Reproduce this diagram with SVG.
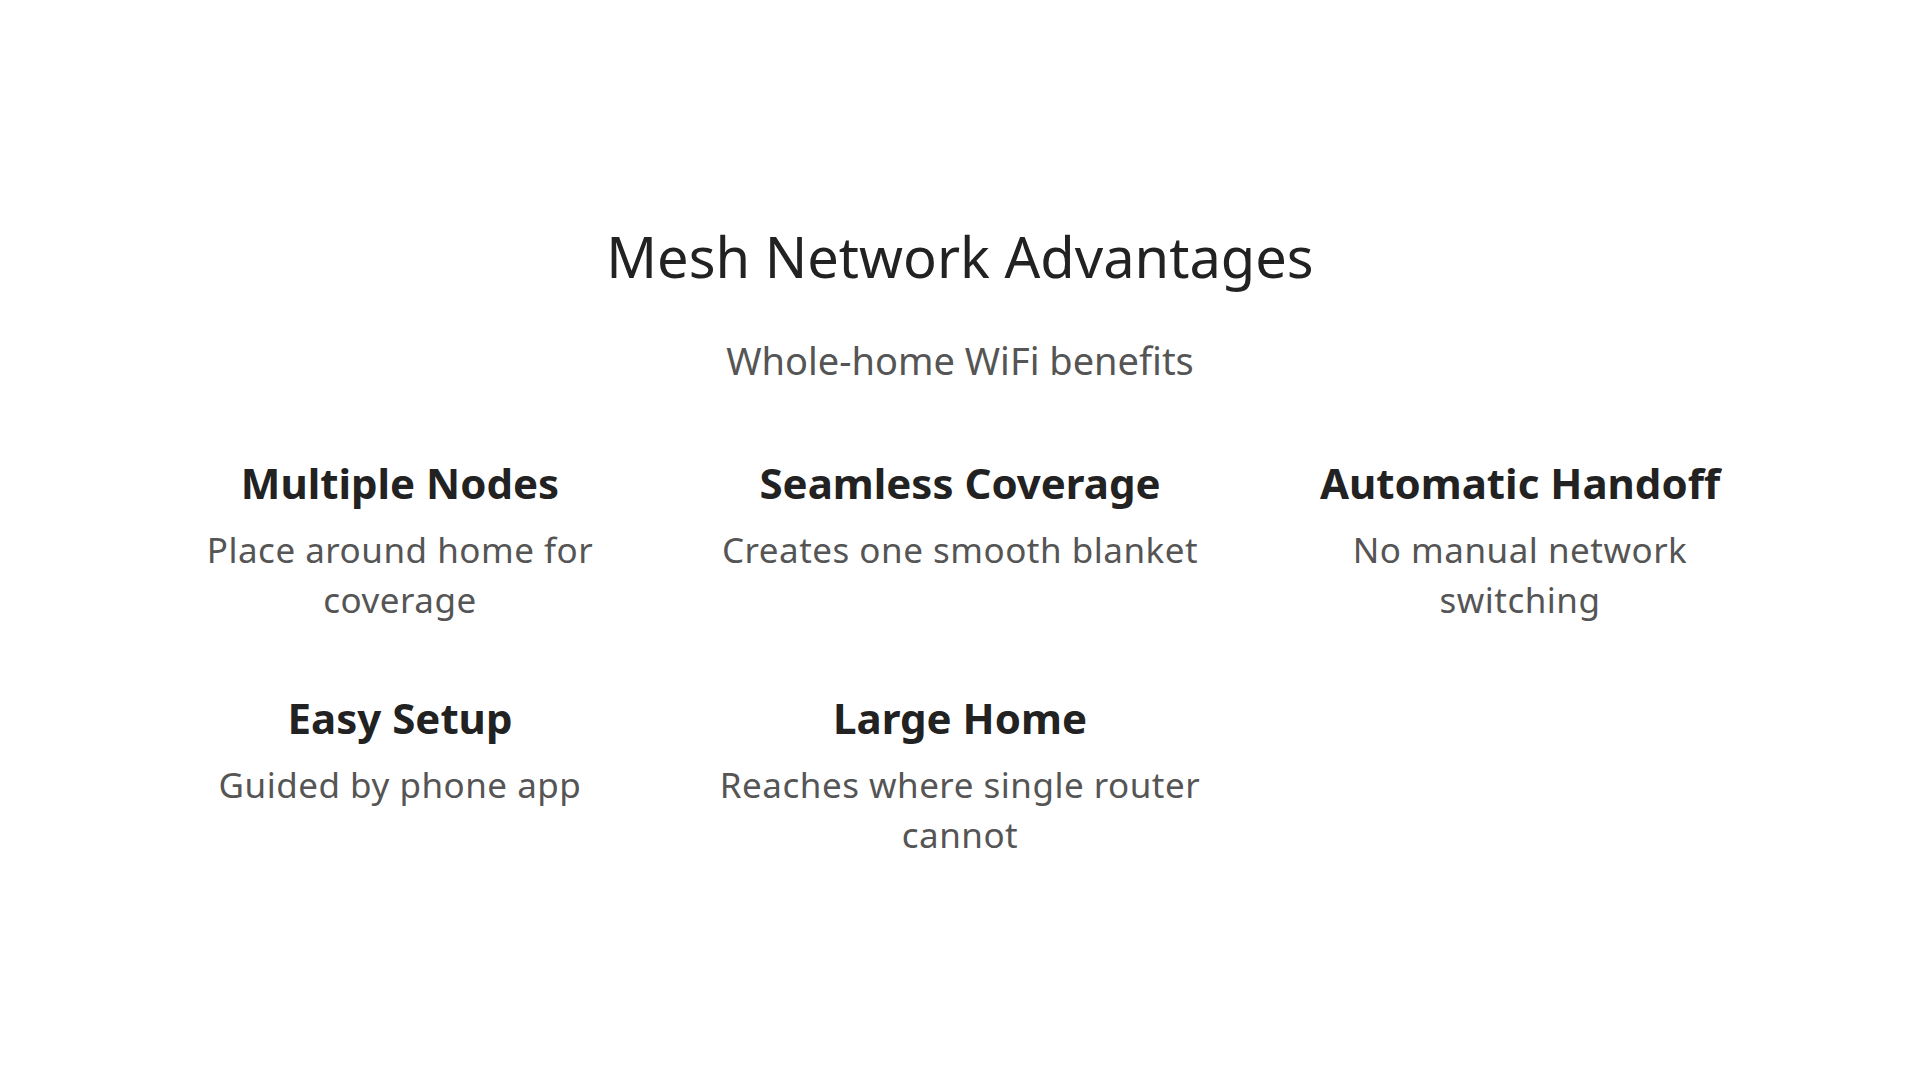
<svg xmlns="http://www.w3.org/2000/svg" width="1920" height="1080" viewBox="0 0 1920 1080">
<style>
text{font-family:"Noto Sans","Open Sans",sans-serif;text-anchor:middle}
.t{font-size:56px;fill:#222}
.s{font-size:38px;fill:#555}
.h{font-size:42px;font-weight:bold;fill:#222}
.d{font-size:35px;fill:#555;letter-spacing:0.5px}
</style>
<rect width="1920" height="1080" fill="#fff"/>
<text class="t" x="960" y="278">Mesh Network Advantages</text>
<text class="s" x="960" y="375">Whole-home WiFi benefits</text>
<g id="multiple-nodes"><text class="h" x="400" y="499">Multiple Nodes</text><text class="d" x="400" y="563">Place around home for</text><text class="d" x="400" y="613">coverage</text></g>
<g id="seamless-coverage"><text class="h" x="960" y="499">Seamless Coverage</text><text class="d" x="960" y="563">Creates one smooth blanket</text></g>
<g id="automatic-handoff"><text class="h" x="1520" y="499">Automatic Handoff</text><text class="d" x="1520" y="563">No manual network</text><text class="d" x="1520" y="613">switching</text></g>
<g id="easy-setup"><text class="h" x="400" y="734">Easy Setup</text><text class="d" x="400" y="798">Guided by phone app</text></g>
<g id="large-home"><text class="h" x="960" y="734">Large Home</text><text class="d" x="960" y="798">Reaches where single router</text><text class="d" x="960" y="848">cannot</text></g>
<g id="connectors"></g>
</svg>
